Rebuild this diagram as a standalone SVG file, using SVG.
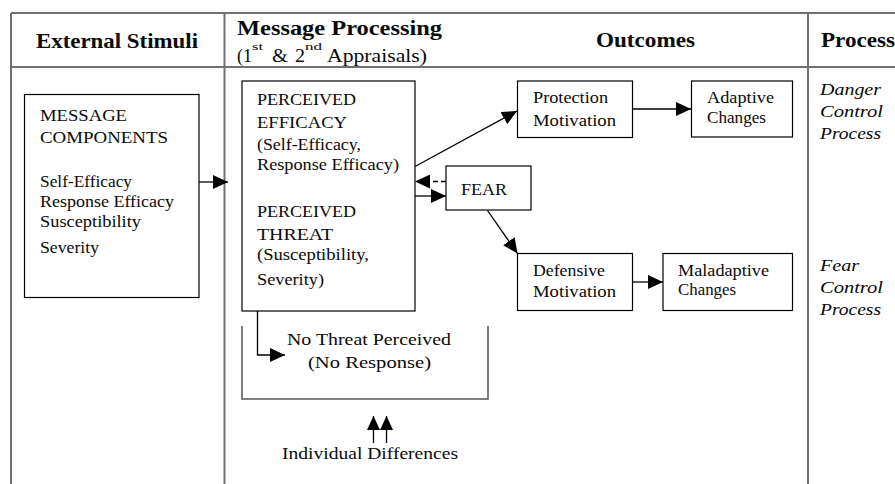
<svg xmlns="http://www.w3.org/2000/svg" width="895" height="484" viewBox="0 0 895 484" font-family="'Liberation Serif', 'Times New Roman', serif">
<defs>
<style>
text{font-family:'Liberation Serif','Times New Roman',serif;fill:#0a0a0a;}
.h{font-size:21px;font-weight:bold;}
.sh{font-size:18px;}
.sup{font-size:11px;}
.t{font-size:17px;}
.s{font-size:16px;}
.i{font-size:16px;font-style:italic;}
.grid{stroke:#707070;stroke-width:2;fill:none;}
.box{fill:#fff;stroke:#000;stroke-width:1.2;}
.open{fill:none;stroke:#555;stroke-width:1.5;}
.c{fill:none;stroke:#000;stroke-width:1.3;}
.d{fill:none;stroke:#000;stroke-width:1.3;stroke-dasharray:5,3;}
</style>
<marker id="ah" viewBox="0 0 15 14" refX="15" refY="7" markerWidth="15" markerHeight="14" markerUnits="userSpaceOnUse" orient="auto">
<path d="M0,0 L15,7 L0,14 z" fill="#000"/>
</marker>
<marker id="ahs" viewBox="0 0 14 13" refX="14" refY="6.5" markerWidth="14" markerHeight="13" markerUnits="userSpaceOnUse" orient="auto">
<path d="M0,0 L14,6.5 L0,13 z" fill="#000"/>
</marker>
</defs>
<rect width="895" height="484" fill="#fff"/>
<g id="table">
<path class="grid" d="M11,13 H895 M11,67 H895 M11,13 V484 M224.5,13 V484 M808,13 V484"/>
<text class="h" x="36" y="48" textLength="162" lengthAdjust="spacingAndGlyphs">External Stimuli</text>
<text class="h" x="237" y="35" textLength="205" lengthAdjust="spacingAndGlyphs">Message Processing</text>
<text class="sh" x="237" y="61.5" textLength="15" lengthAdjust="spacingAndGlyphs">(1</text>
<text class="sup" x="252" y="50" textLength="11" lengthAdjust="spacingAndGlyphs">st</text>
<text class="sh" x="272" y="61.5" textLength="16" lengthAdjust="spacingAndGlyphs">&amp;</text>
<text class="sh" x="295" y="61.5" textLength="10" lengthAdjust="spacingAndGlyphs">2</text>
<text class="sup" x="305" y="50" textLength="17" lengthAdjust="spacingAndGlyphs">nd</text>
<text class="sh" x="327" y="61.5" textLength="100" lengthAdjust="spacingAndGlyphs">Appraisals)</text>
<text class="h" x="596" y="47" textLength="99" lengthAdjust="spacingAndGlyphs">Outcomes</text>
<text class="h" x="821" y="47" textLength="74" lengthAdjust="spacingAndGlyphs">Process</text>
</g>
<g id="message-components">
<rect class="box" x="24.5" y="94.5" width="174.5" height="203"/>
<text class="t" x="40" y="121" textLength="87" lengthAdjust="spacingAndGlyphs">MESSAGE</text>
<text class="t" x="40" y="143" textLength="128" lengthAdjust="spacingAndGlyphs">COMPONENTS</text>
<text class="t" x="40" y="187" textLength="92" lengthAdjust="spacingAndGlyphs">Self-Efficacy</text>
<text class="t" x="40" y="207" textLength="134" lengthAdjust="spacingAndGlyphs">Response Efficacy</text>
<text class="t" x="40" y="227" textLength="101" lengthAdjust="spacingAndGlyphs">Susceptibility</text>
<text class="t" x="40" y="253" textLength="59" lengthAdjust="spacingAndGlyphs">Severity</text>
</g>
<g id="perceived">
<rect class="box" x="242" y="81" width="173" height="230"/>
<text class="t" x="257" y="105" textLength="99" lengthAdjust="spacingAndGlyphs">PERCEIVED</text>
<text class="t" x="257" y="128" textLength="90" lengthAdjust="spacingAndGlyphs">EFFICACY</text>
<text class="s" x="257" y="150" textLength="104" lengthAdjust="spacingAndGlyphs">(Self-Efficacy,</text>
<text class="s" x="257" y="170" textLength="142" lengthAdjust="spacingAndGlyphs">Response Efficacy)</text>
<text class="t" x="257" y="217" textLength="99" lengthAdjust="spacingAndGlyphs">PERCEIVED</text>
<text class="t" x="257" y="240" textLength="76" lengthAdjust="spacingAndGlyphs">THREAT</text>
<text class="s" x="257" y="260" textLength="112" lengthAdjust="spacingAndGlyphs">(Susceptibility,</text>
<text class="s" x="257" y="285" textLength="67" lengthAdjust="spacingAndGlyphs">Severity)</text>
</g>
<g id="protection">
<rect class="box" x="517.5" y="81" width="115" height="56.5"/>
<text class="s" x="533" y="103" textLength="75" lengthAdjust="spacingAndGlyphs">Protection</text>
<text class="s" x="533" y="126" textLength="83" lengthAdjust="spacingAndGlyphs">Motivation</text>
</g>
<g id="adaptive">
<rect class="box" x="691.5" y="81" width="101" height="56"/>
<text class="s" x="707" y="103" textLength="67" lengthAdjust="spacingAndGlyphs">Adaptive</text>
<text class="s" x="707" y="123" textLength="59" lengthAdjust="spacingAndGlyphs">Changes</text>
</g>
<g id="fear">
<rect class="box" x="446" y="166" width="85" height="44"/>
<text class="s" x="461" y="195" textLength="46" lengthAdjust="spacingAndGlyphs">FEAR</text>
</g>
<g id="defensive">
<rect class="box" x="517.5" y="253.5" width="115" height="57"/>
<text class="s" x="533" y="276" textLength="72" lengthAdjust="spacingAndGlyphs">Defensive</text>
<text class="s" x="533" y="297" textLength="83" lengthAdjust="spacingAndGlyphs">Motivation</text>
</g>
<g id="maladaptive">
<rect class="box" x="663" y="253.5" width="129.5" height="57"/>
<text class="s" x="678" y="276" textLength="91" lengthAdjust="spacingAndGlyphs">Maladaptive</text>
<text class="s" x="678" y="295" textLength="58" lengthAdjust="spacingAndGlyphs">Changes</text>
</g>
<g id="no-threat">
<path class="open" d="M242,326 V399 H488 V326"/>
<text class="t" x="287" y="345" textLength="164" lengthAdjust="spacingAndGlyphs">No Threat Perceived</text>
<text class="t" x="308" y="368" textLength="123" lengthAdjust="spacingAndGlyphs">(No Response)</text>
</g>
<g id="individual-differences">
<text class="t" x="282" y="459" textLength="176" lengthAdjust="spacingAndGlyphs">Individual Differences</text>
</g>
<g id="process-labels">
<text class="i" x="820" y="95" textLength="61" lengthAdjust="spacingAndGlyphs">Danger</text>
<text class="i" x="820" y="117" textLength="63" lengthAdjust="spacingAndGlyphs">Control</text>
<text class="i" x="820" y="139" textLength="61" lengthAdjust="spacingAndGlyphs">Process</text>
<text class="i" x="820" y="271" textLength="39" lengthAdjust="spacingAndGlyphs">Fear</text>
<text class="i" x="820" y="293" textLength="63" lengthAdjust="spacingAndGlyphs">Control</text>
<text class="i" x="820" y="315" textLength="61" lengthAdjust="spacingAndGlyphs">Process</text>
</g>
<g id="connectors">
<path class="c" d="M199,182 H228" marker-end="url(#ah)"/>
<path class="c" d="M415,166.5 L517,111" marker-end="url(#ah)"/>
<path class="c" d="M632.5,109 H691" marker-end="url(#ah)"/>
<path class="c" d="M415,196 H446" marker-end="url(#ah)"/>
<path class="d" d="M446,181.5 H415" marker-end="url(#ah)"/>
<path class="c" d="M487.5,210.5 L517.5,253.5" marker-end="url(#ah)"/>
<path class="c" d="M632.5,282 H663" marker-end="url(#ah)"/>
<path class="c" d="M257.5,311 V355 H285" marker-end="url(#ah)"/>
<path class="c" d="M373.5,443 V416" marker-end="url(#ahs)"/>
<path class="c" d="M386.5,443 V416" marker-end="url(#ahs)"/>
</g>
</svg>
